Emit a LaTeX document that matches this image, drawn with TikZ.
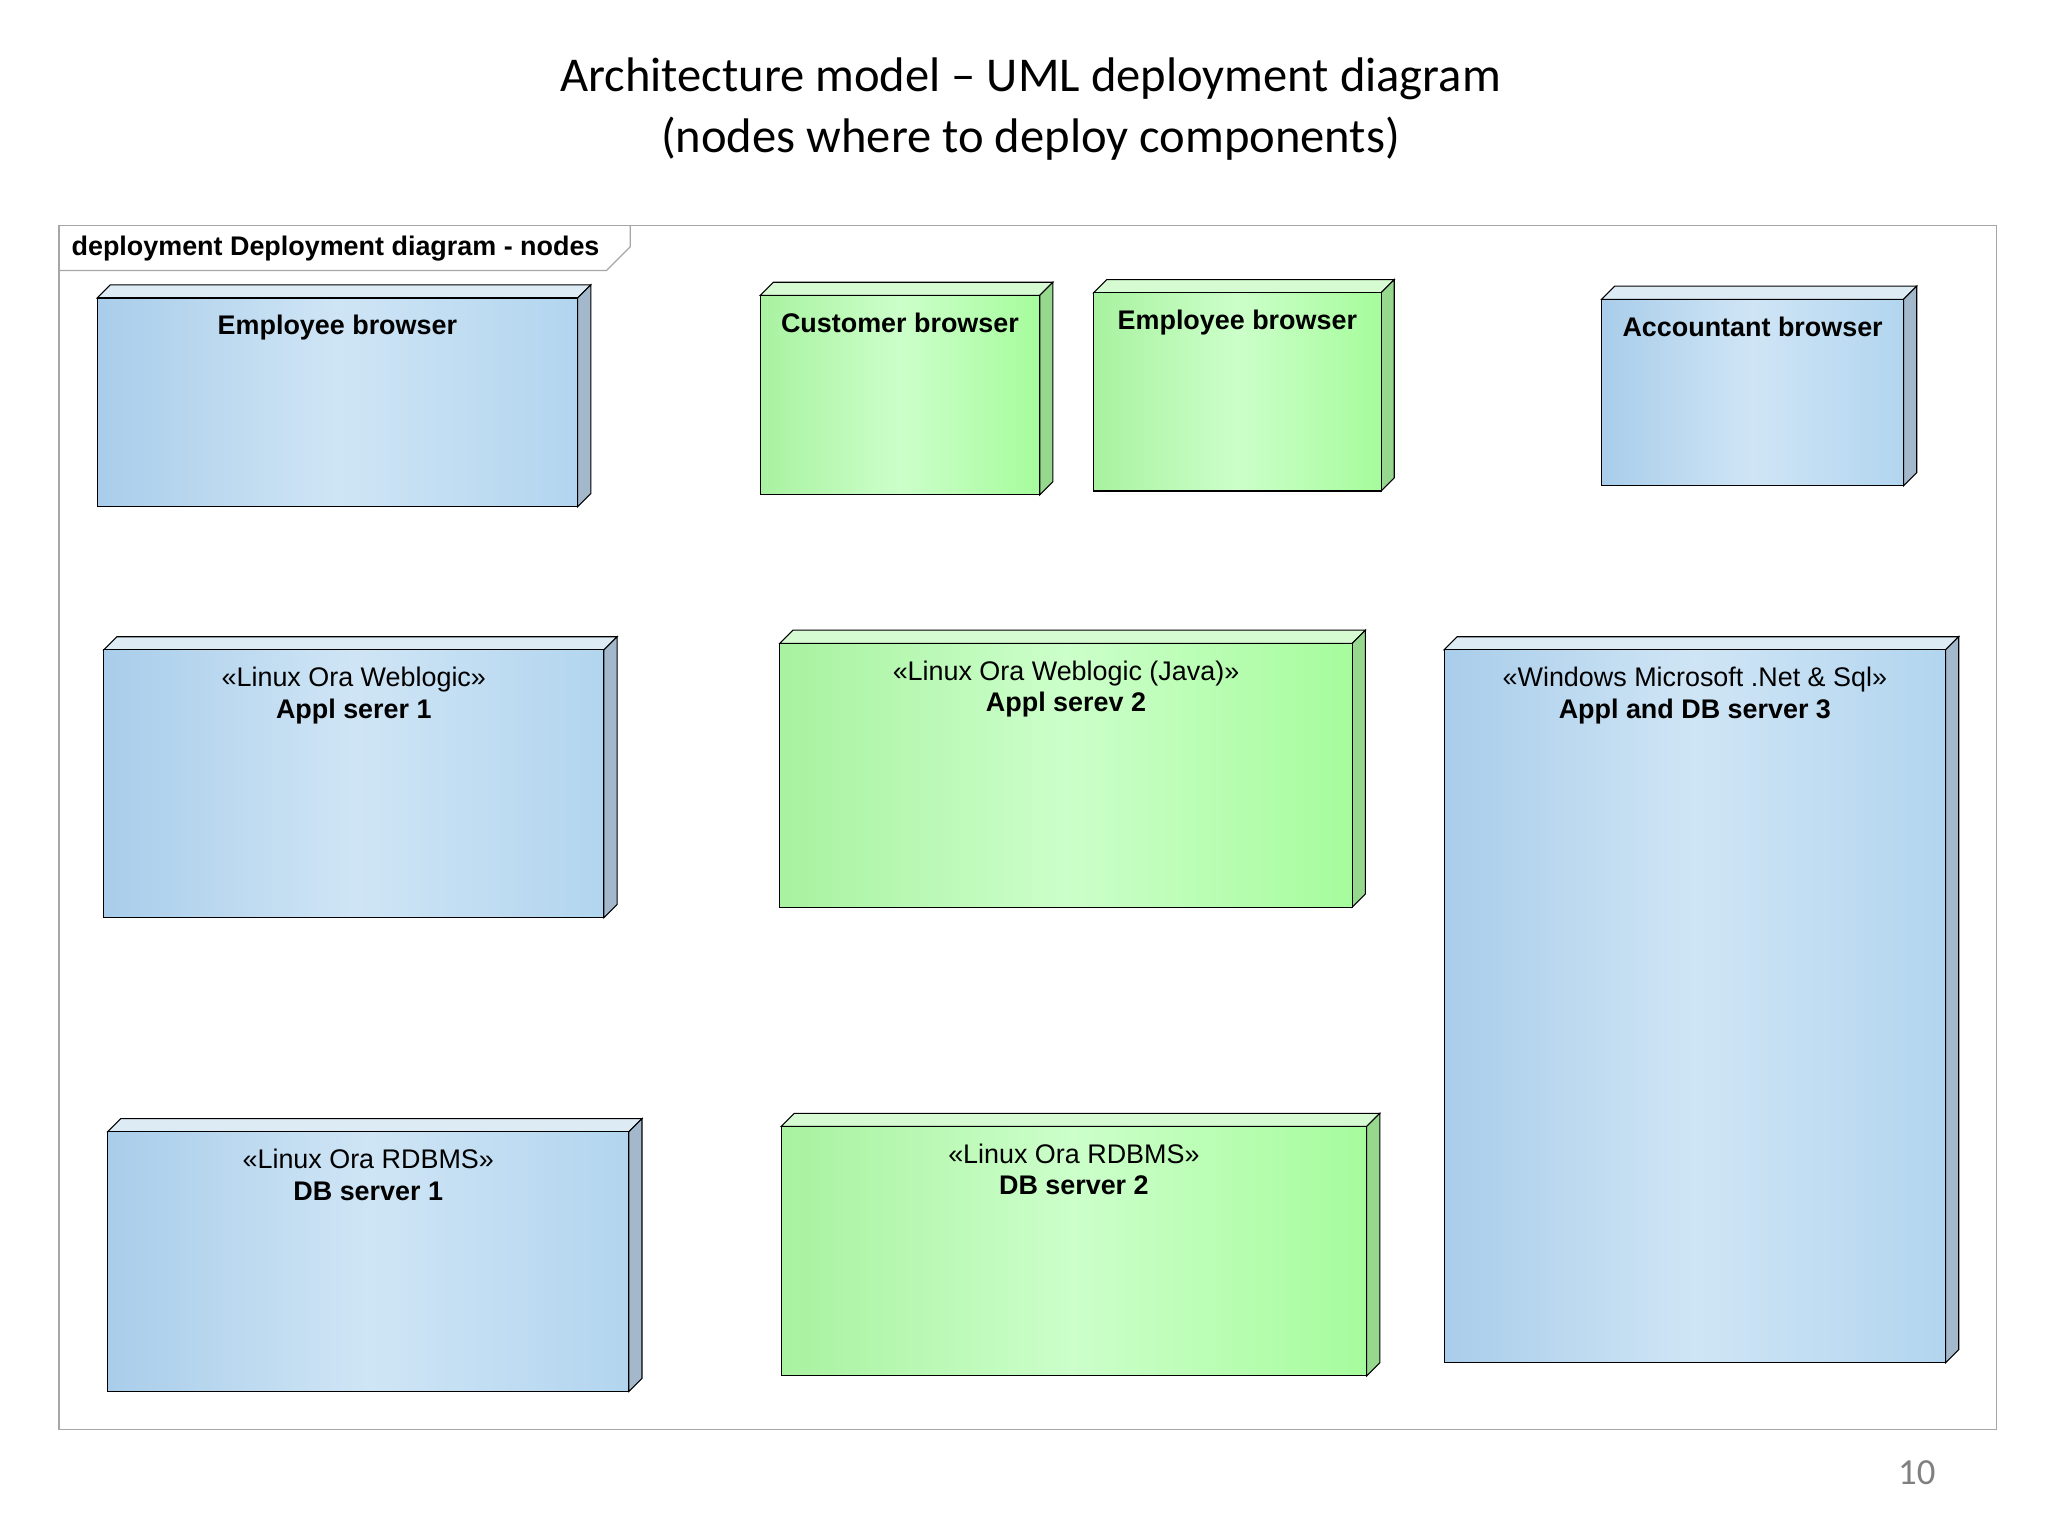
\documentclass[tikz,border=0pt]{standalone}
\usepackage{fontspec}
\setmainfont{Liberation Sans}
\newfontfamily\titlefont{Carlito}
\begin{document}
\begin{tikzpicture}[x=1pt,y=-1pt,
  blue/.style={left color=blue1,right color=blue3,middle color=blue2},
  green/.style={left color=green1,right color=green3,middle color=green2},
  lbl/.style={anchor=north,align=center,font=\fontsize{20.5}{24}\selectfont,inner sep=0pt}]
\definecolor{blue1}{HTML}{A9CDEA}\definecolor{blue2}{HTML}{CFE5F5}\definecolor{blue3}{HTML}{B2D5EF}
\definecolor{green1}{HTML}{A8F2A0}\definecolor{green2}{HTML}{CCFFCA}\definecolor{green3}{HTML}{A6FC9C}
\definecolor{bside}{HTML}{A4B8CC}\definecolor{btop}{HTML}{DDEBF5}
\definecolor{gside}{HTML}{96D88E}\definecolor{gtop}{HTML}{D6FBD2}
\newcommand\dnode[7]{%
  \fill[#6top,draw=black,line width=0.8pt] (#2,#3)--(#2+10,#3-10)--(#4+10,#3-10)--(#4,#3)--cycle;
  \fill[#6side,draw=black,line width=0.8pt] (#4,#3)--(#4+10,#3-10)--(#4+10,#5-10)--(#4,#5)--cycle;
  \shade[#6,draw=black,line width=0.8pt] (#2,#3) rectangle (#4,#5);
  \node[lbl] (#1) at ({(#2+#4)/2},#3+13) {#7};}
\colorlet{bluetop}{btop}\colorlet{blueside}{bside}
\colorlet{greentop}{gtop}\colorlet{greenside}{gside}
\useasboundingbox[fill=white] (0,0) rectangle (1560,1170);
\node[font=\titlefont\fontsize{37}{47}\selectfont,align=center] (title) at (785,83) {Architecture model – UML deployment diagram\\(nodes where to deploy components)};
\draw[gray!70,line width=1pt] (45,172) rectangle (1521,1089);
\draw[gray!70,line width=1pt] (45,206)--(462,206)--(480,188)--(480,172);
\node[anchor=west,font=\bfseries\fontsize{20.5}{22}\selectfont] (frame) at (51,189) {deployment Deployment diagram - nodes};
\dnode{eb1}{74}{227}{440}{386}{blue}{\textbf{Employee browser}}
\dnode{cb}{579}{225}{792}{377}{green}{\textbf{Customer browser}}
\dnode{eb2}{833}{223}{1052}{374}{green}{\textbf{Employee browser}}
\dnode{ab}{1220}{228}{1450}{370}{blue}{\textbf{Accountant browser}}
\dnode{as1}{79}{495}{460}{699}{blue}{«Linux Ora Weblogic»\\\textbf{Appl serer 1}}
\dnode{as2}{594}{490}{1030}{691}{green}{«Linux Ora Weblogic (Java)»\\\textbf{Appl serev 2}}
\dnode{as3}{1100}{495}{1482}{1038}{blue}{«Windows Microsoft .Net \& Sql»\\\textbf{Appl and DB server 3}}
\dnode{db1}{82}{862}{479}{1060}{blue}{«Linux Ora RDBMS»\\\textbf{DB server 1}}
\dnode{db2}{595}{858}{1041}{1048}{green}{«Linux Ora RDBMS»\\\textbf{DB server 2}}
\node[font=\titlefont\fontsize{28}{30}\selectfont,text=gray] (pg) at (1460,1122) {10};
\end{tikzpicture}
\end{document}
